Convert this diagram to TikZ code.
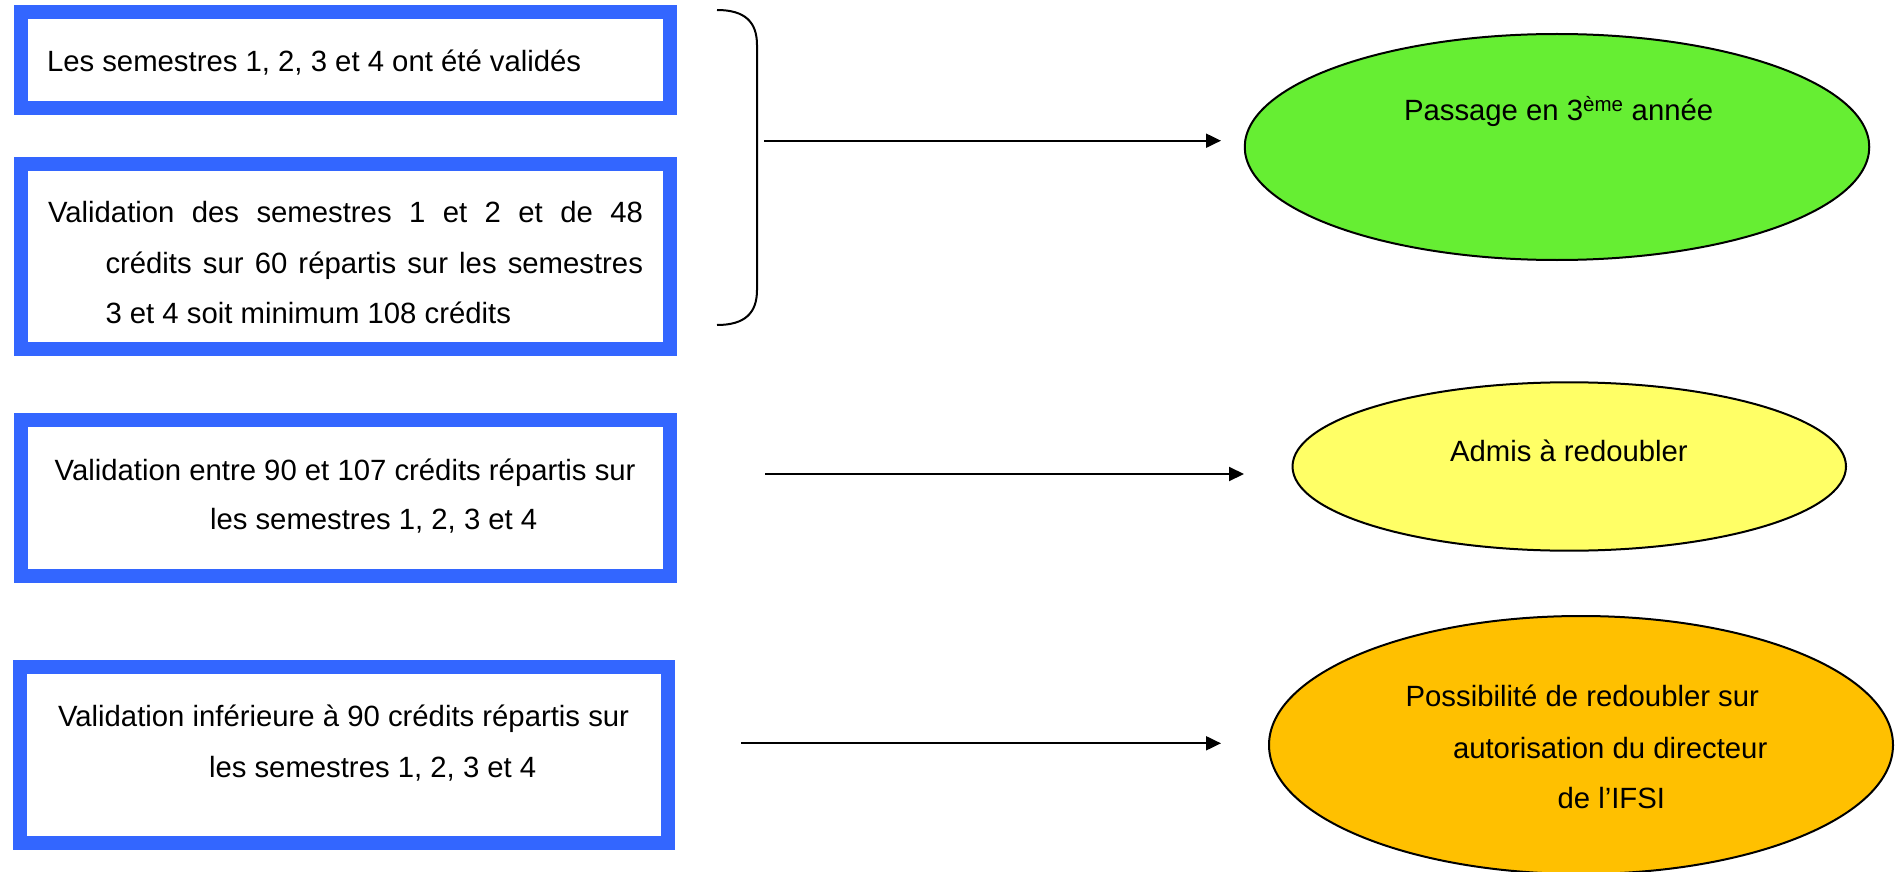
\documentclass[tikz,border=0pt]{standalone}
\usepackage{fontspec}
\setmainfont{Liberation Sans}
\usetikzlibrary{shapes.geometric,arrows.meta}
\definecolor{boxblue}{HTML}{3366FF}
\definecolor{elgreen}{HTML}{66EE33}
\definecolor{elyellow}{HTML}{FFFF66}
\definecolor{elorange}{HTML}{FFC000}
\tikzset{
  bbox/.style={draw=boxblue, line width=14pt, fill=white, rectangle, inner sep=0pt},
  oval/.style={draw=black, line width=2pt, ellipse, inner sep=0pt},
  txt/.style={anchor=base west, inner sep=0pt, outer sep=0pt, font=\fontsize{29.3}{35}\selectfont},
  conn/.style={line width=2pt, -{Triangle[length=15pt,width=14pt]}},
  brace/.style={line width=2pt}
}
\begin{document}
\begin{tikzpicture}[x=1pt,y=-1pt]
\useasboundingbox (0,0) rectangle (1901,872);
% boxes
\node[bbox, minimum width=648.5pt, minimum height=95.5pt] (b1) at (345.25,60.25) {};
\node[bbox, minimum width=648.5pt, minimum height=185.3pt] (b2) at (345.25,256.35) {};
\node[bbox, minimum width=648.5pt, minimum height=156.6pt] (b3) at (345.25,498) {};
\node[bbox, minimum width=648pt, minimum height=176pt] (b4) at (344,754.7) {};
% box texts
\node[txt] (t1) at (47,71.7) {Les semestres 1, 2, 3 et 4 ont été validés};
\node[txt] (t2a) at (48,222.7) {\makebox[595pt][s]{Validation des semestres 1 et 2 et de 48}};
\node[txt] (t2b) at (105.5,273.3) {\makebox[537.5pt][s]{crédits sur 60 répartis sur les semestres}};
\node[txt] (t2c) at (105.5,323.3) {3 et 4 soit minimum 108 crédits};
\node[txt] (t3a) at (54.7,480) {Validation entre 90 et 107 crédits répartis sur};
\node[txt] (t3b) at (210,529.3) {les semestres 1, 2, 3 et 4};
\node[txt] (t4a) at (58,726) {Validation inférieure à 90 crédits répartis sur};
\node[txt] (t4b) at (209,777.3) {les semestres 1, 2, 3 et 4};
% ellipses
\node[oval, fill=elgreen, minimum width=624.5pt, minimum height=226pt] (e1) at (1557,147) {};
\node[oval, fill=elyellow, minimum width=553.5pt, minimum height=168.4pt] (e2) at (1569.25,466.5) {};
\node[oval, fill=elorange, minimum width=624pt, minimum height=258pt] (e3) at (1581,745) {};
\node[txt] (te1) at (1404,120.7) {Passage en 3\textsuperscript{ème} année};
\node[txt] (te2) at (1450,461.7) {Admis à redoubler};
\node[txt] (te3a) at (1405.6,706.7) {Possibilité de redoubler sur};
\node[txt] (te3b) at (1453,758) {autorisation du directeur};
\node[txt] (te3c) at (1557.6,808) {de l’IFSI};
% brace
\coordinate (brtop) at (717,10);
\coordinate (brbot) at (717,325);
\draw[brace] (brtop) .. controls (745,10) and (757,22) .. (757,45) -- (757,290) .. controls (757,313) and (745,325) .. (brbot);
% arrows
\coordinate (a1s) at (764,140.7);
\coordinate (a1e) at (1221,140.7);
\coordinate (a2s) at (765,474);
\coordinate (a2e) at (1244,474);
\coordinate (a3s) at (741,743.3);
\coordinate (a3e) at (1221,743.3);
\draw[conn] (a1s) -- (a1e);
\draw[conn] (a2s) -- (a2e);
\draw[conn] (a3s) -- (a3e);
\end{tikzpicture}
\end{document}
